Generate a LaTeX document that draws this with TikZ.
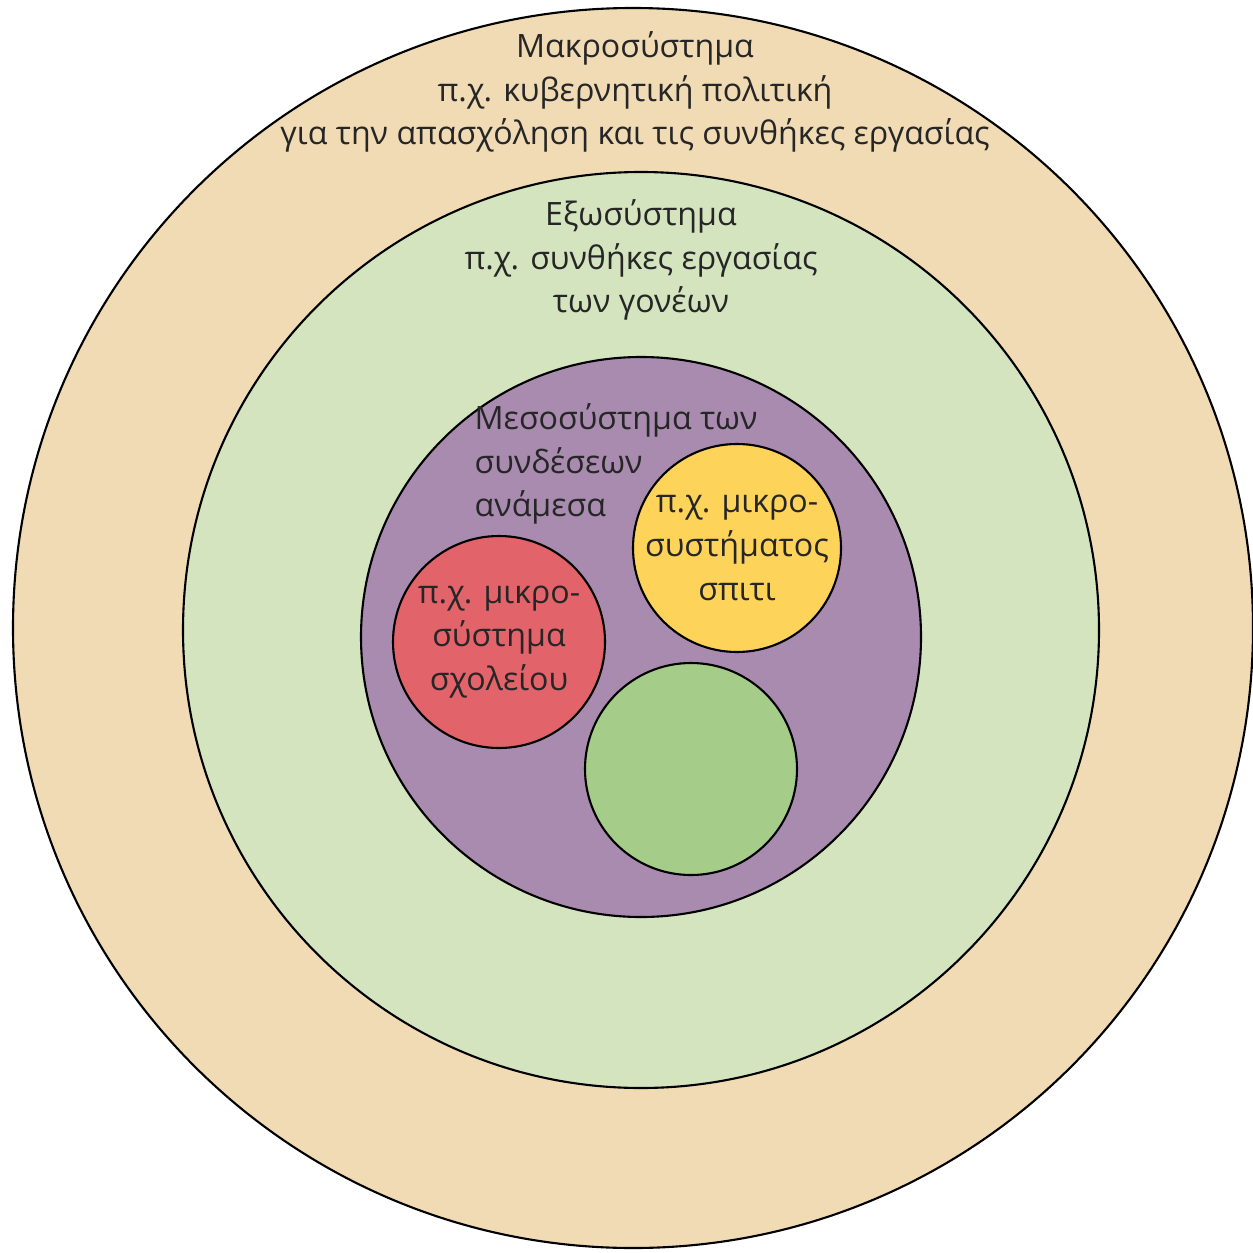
\documentclass[tikz,border=0pt]{standalone}
\usepackage{fontspec}
\setmainfont{Open Sans}
\usetikzlibrary{shapes.geometric, positioning}
\definecolor{macrotan}{RGB}{240,219,180}
\definecolor{exolight}{RGB}{212,228,191}
\definecolor{mesopurple}{RGB}{168,139,175}
\definecolor{homeyellow}{RGB}{253,211,90}
\definecolor{schoolred}{RGB}{226,99,106}
\definecolor{microgreen}{RGB}{165,204,137}
\tikzset{
    circ/.style args={#1and#2}{
        draw,
        line width=0.6pt,
        shape=circle,
        fill=#2,
        minimum size=2*#1,
        inner sep=0pt,
        outer sep=0pt,
    },
    lbl/.style={
        align=center,
        inner sep=0pt,
        font=\fontsize{9.15}{12.4}\selectfont,
        text=black!85,
    }
}
\begin{document}
\begin{tikzpicture}

\useasboundingbox (0,0) rectangle (12.53cm,-12.53cm);

\node[circ=6.2cm and macrotan] (macro) at (6.33cm,-6.28cm) {};
\node[circ=4.58cm and exolight] (exo) at (6.41cm,-6.30cm) {};
\node[circ=2.8cm and mesopurple] (meso) at (6.41cm,-6.37cm) {};
\node[circ=1.04cm and homeyellow] (home) at (7.37cm,-5.48cm) {};
\node[circ=1.06cm and schoolred] (school) at (4.99cm,-6.42cm) {};
\node[circ=1.06cm and microgreen] (other) at (6.91cm,-7.69cm) {};

% texts
\node[lbl] (macrotext) at (6.35cm,-0.92cm) {Μακροσύστημα\\π.χ. κυβερνητική πολιτική\\για την απασχόληση και τις συνθήκες εργασίας};
\node[lbl] (exotext) at (6.41cm,-2.60cm) {Εξωσύστημα\\π.χ. συνθήκες εργασίας\\των γονέων};
\node[lbl, align=left, anchor=west] (mesotext) at (4.74cm,-4.64cm) {Μεσοσύστημα των\\συνδέσεων\\ανάμεσα};
\node[lbl] (hometext) at (home) {π.χ. μικρο-\\συστήματος\\σπιτι};
\node[lbl] (schooltext) at (school) {π.χ. μικρο-\\σύστημα\\σχολείου};

\end{tikzpicture}
\end{document}
